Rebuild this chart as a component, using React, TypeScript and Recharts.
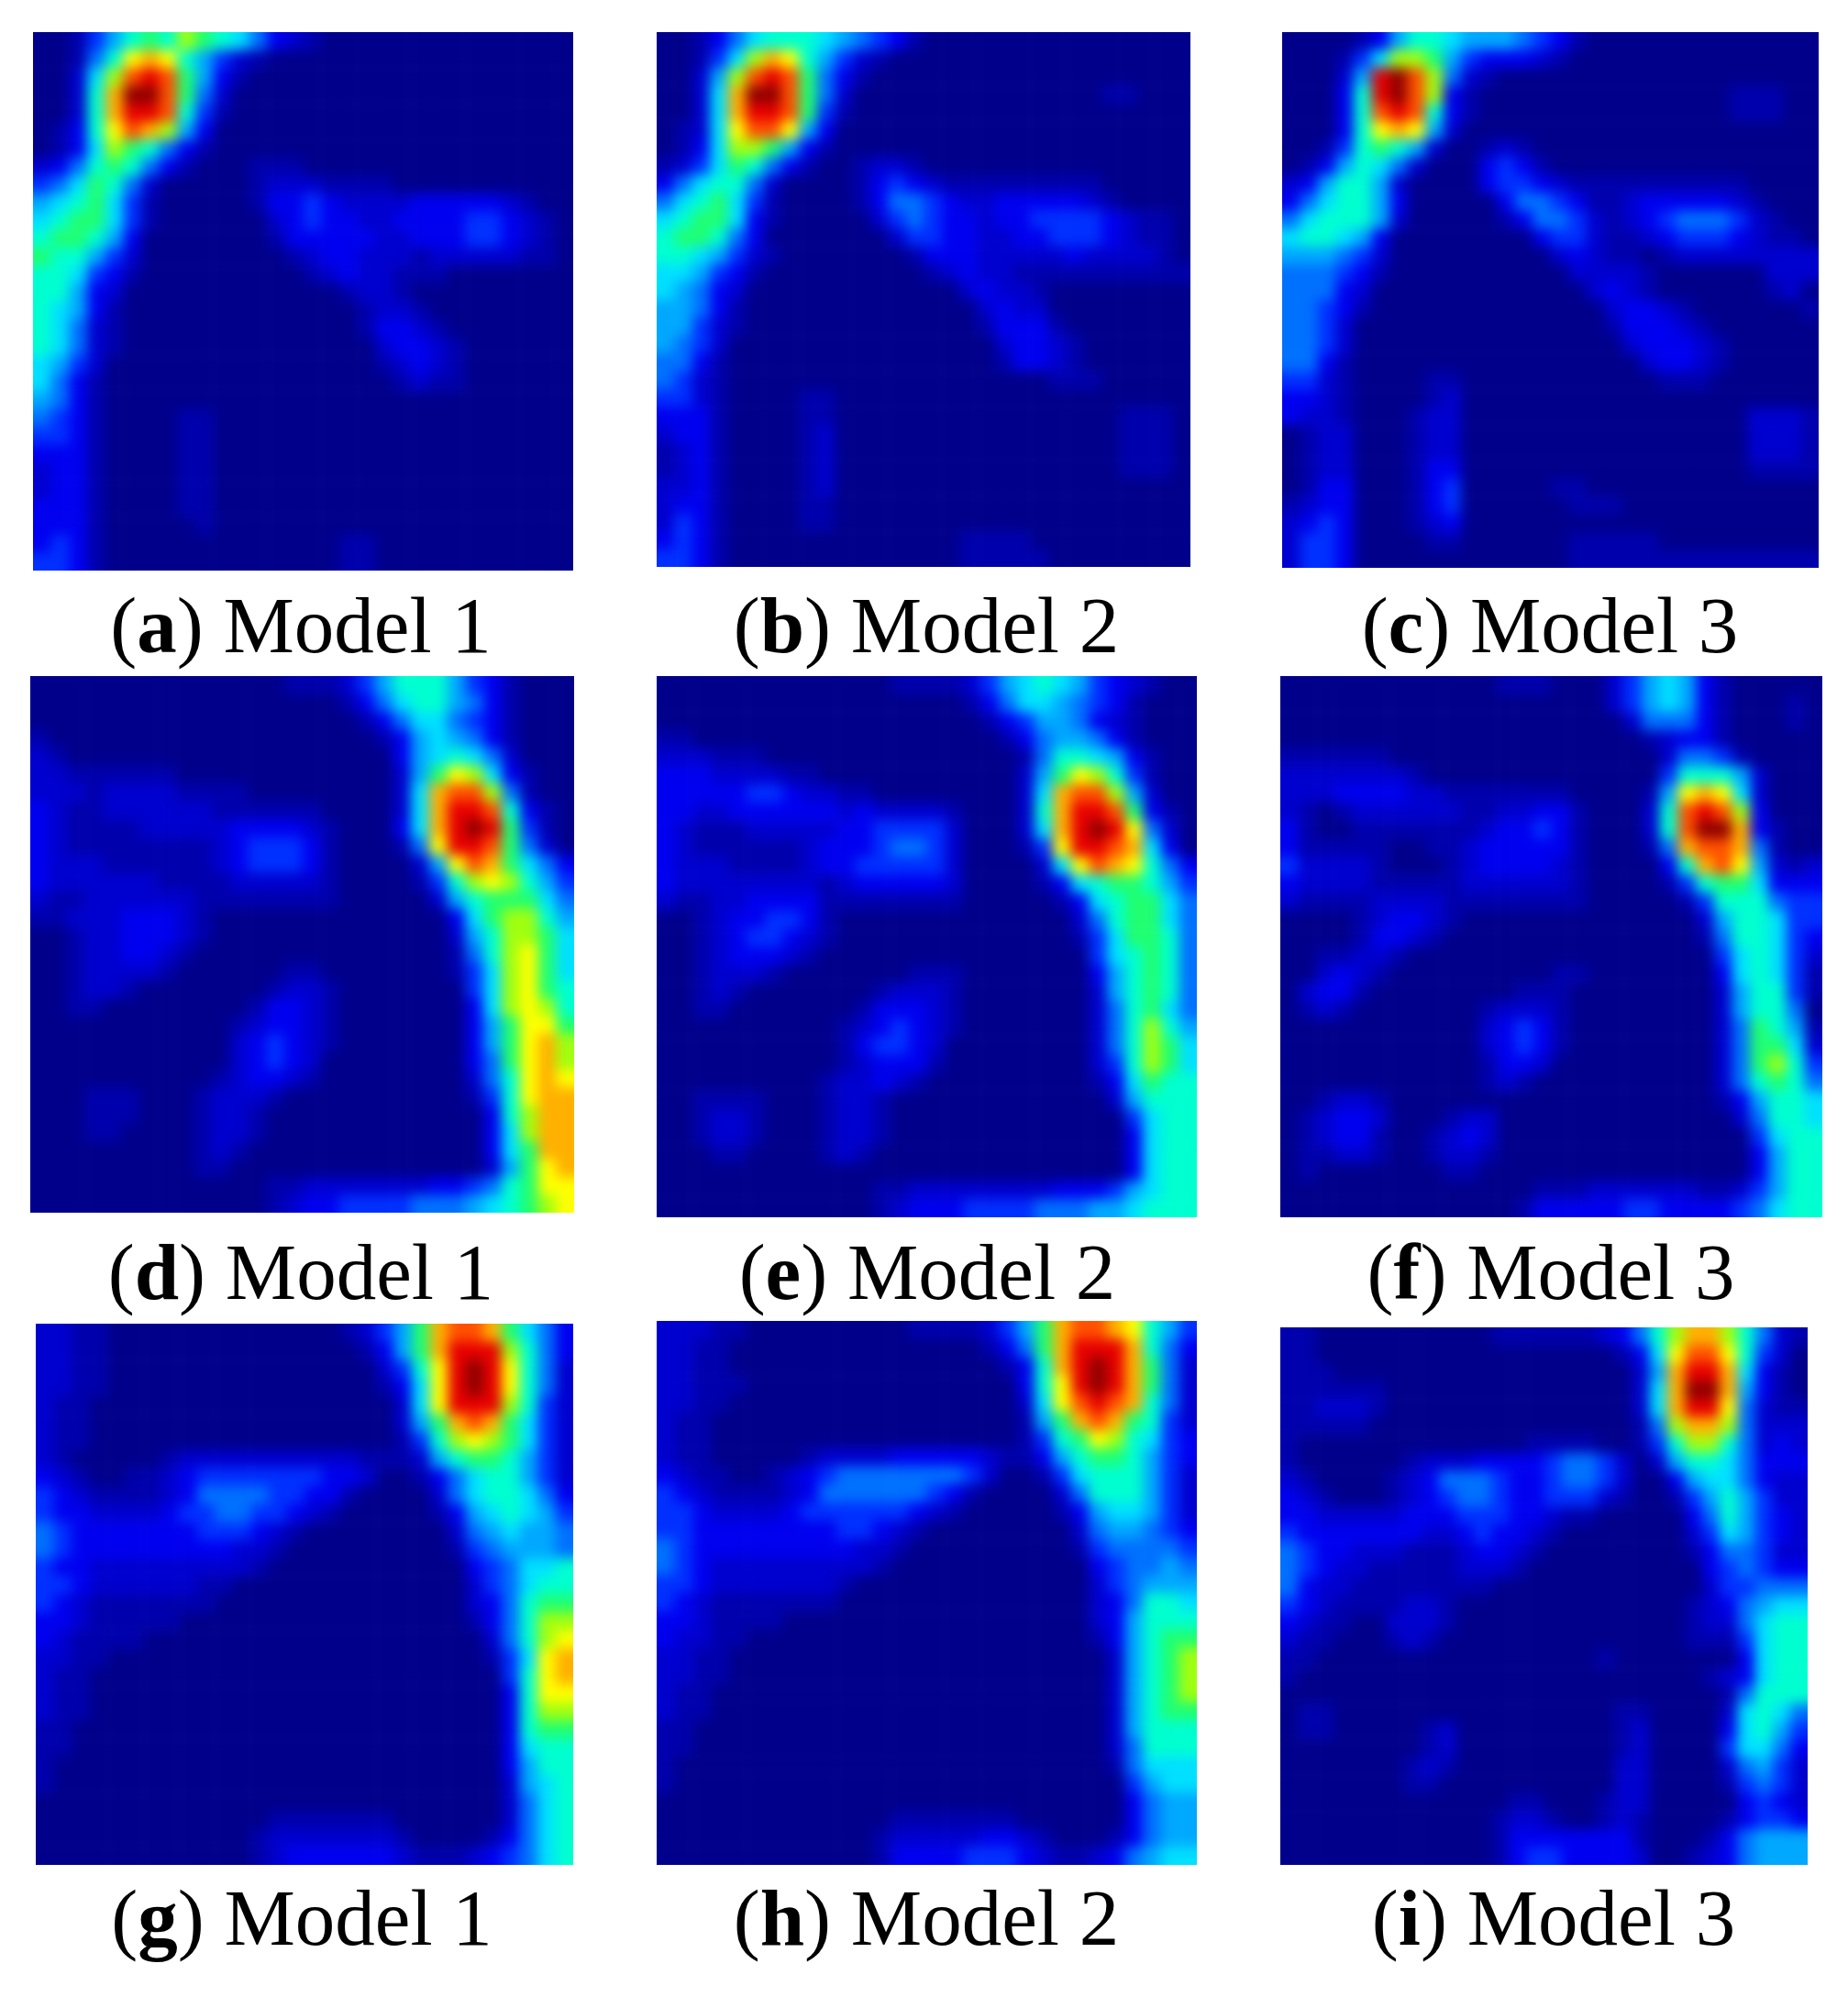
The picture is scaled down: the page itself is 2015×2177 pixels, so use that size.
import React from 'react'
import { ScatterChart, Scatter, XAxis, YAxis } from 'recharts'

// one hex digit per cell; missing cells at the end of a row are 0
const panelA = [
  '00146898a9875321',
  '00158bcb86421',
  '0027aded9631',
  '0028cffd952',
  '0028ceed841',
  '0138bdca63',
  '0137a98531',
  '235898531000111',
  '45798520000012221111',
  '6789741000001334322223333321',
  '78997410000002343322333344321',
  '89986300000001333332233344321',
  '98864200000000123322212222211',
  '88743100000000012322111',
  '886320000000000001221',
  '8763100000000000001221',
  '87521000000000000013321',
  '875210000000000000023321',
  '764200000000000000012321',
  '753100000000000000001211',
  '6531',
  '5431000011',
  '4431000011',
  '3331000011',
  '2331000011',
  '2331000011',
  '3331000011',
  '3331000001',
  '3431000000000000011',
  '4431000000000000011',
]
const panelB = [
  '001357888765431',
  '00147acb86421',
  '0026aded9531',
  '0027cffd9520000000000000011',
  '0027ceed941',
  '0127bddb63',
  '0137aa9631',
  '124798531001221',
  '3578852000013432111111111',
  '57897410000135543223333321',
  '78997310000024543323344443211',
  '89985300000002443322334443211',
  '88764210000000133322222322221',
  '776431000000000123221111111111',
  '7653200000000000023221',
  '6653100000000000002322',
  '66421000000000000013331',
  '654200000000000000023321',
  '553100000000000000013321',
  '5421000000000000000000111',
  '4421000011',
  '33310000110000000000000000111',
  '23310000120000000000000000111',
  '12310000120000000000000000111',
  '12310000120000000000000000111',
  '2231000012',
  '2331000011',
  '2431000011',
  '343100000000000001111',
  '4431000000000000011111',
]
const panelC = [
  '00001368876665431',
  '000147aa96433321',
  '00026efda521',
  '00038efda3100000000000000111',
  '00038ded83100000000000000111',
  '00038bcb62',
  '00148986200121',
  '013687520003431',
  '23688620000344321111111111',
  '357886300000355431123333321',
  '5788862000001355421234555421',
  '78876300000000344211234443211',
  '666542000000000232110122222222',
  '555431000000000022221000000222',
  '55532000000000000232100000012',
  '554310000000000000233210000001',
  '554200000000000000133321',
  '5542000000000000000233321',
  '5531000000000000000023321',
  '442100001100000000000111',
  '3321000012',
  '322100012200000000000000002221',
  '012200012200000000000000002221',
  '012200012200000000000000002221',
  '012200013300000000000000001111',
  '013300013400000110',
  '1233000134000000111',
  '2343000123',
  '244300001100000011111',
  '244300000000000011111111111111',
]
const panelD = [
  '000000000000001112468886431',
  '000000000000000001357886531',
  '000000000000000000135775431',
  '100000000000000000013676531',
  '210000000000000000003678752',
  '22111111000000000000269ba731',
  '2221222211110000000027cdda51',
  '3211222222111111000027ceed831',
  '3211112222233332100037cefe941',
  '3211111111234443100015beed952',
  '32221111112344431000026bdc9753',
  '322222211112222210000148aba864',
  '211222222111111110000026899975',
  '11222333210000000000000379aa86',
  '00122333210000000000000268aa97',
  '00122332100000000000000158ab97',
  '00122221000000110000000147ab97',
  '00122100000001221000000047ab98',
  '00110000000013321000000037aba8',
  '000000000001233210000000369bb9',
  '000000000002343210000000369bca',
  '000000000002343200000000359bca',
  '000000000012332100000000258bcb',
  '000111000122210000000000148bcc',
  '000111000122100000000000038acc',
  '000110000122100000000000037acc',
  '0000000001210000000000000379cc',
  '0000000001100000000000000269bc',
  '0000000000000112222222334589bb',
  '0000000000000123344445556789ab',
]
const panelE = [
  '0000000000000111124678764321',
  '000000000000000001357765431',
  '000000000000000000134665321',
  '110000000000000000013566531',
  '2221110000000000000015887631',
  '33322221100000000000269ba841',
  '3333344322110000000027cdda62',
  '3322333333232222100028ceed931',
  '3211122222334444200027cefeb52',
  '3211111123334554200014beedc73',
  '32221111233444442000027bdcb853',
  '322222222123333320000137899864',
  '211223333111111110000013789975',
  '001233443100000000000002589975',
  '001234432100000000000001479985',
  '001233321000000000000000478985',
  '001222100000001110000000368985',
  '001210000000122210000000268985',
  '001100000001333210000000258975',
  '000000000012343210000000258a86',
  '000000000013443200000000258a97',
  '000000000012333100000000248a97',
  '000000000122321000000000137988',
  '001111000122100000000000026888',
  '001221000122100000000000004788',
  '001221000122100000000000003788',
  '000110000121000000000000003788',
  '000000000000000000000000003788',
  '000000000000112222222233346788',
  '000000000000123334444555667888',
]
const panelF = [
  '0000000000001110002467631',
  '00000000000000000024676310001',
  '00000000000000000002555310001',
  '0000000000000000000012331',
  '11111100000000000000025541',
  '222222210000000000000488862',
  '2223333221111111000016bcb72',
  '2101222222112233100028deda3',
  '3100111111123343100028dffc31',
  '3111110011233333100015cddc51',
  '42222100012333321000038cdb6212',
  '322221111122222210000148997333',
  '211112222111111110000014888544',
  '000012332100000000000002688744',
  '000013321000000000000001588743',
  '001122100000000000000000478742',
  '002321000000000110000000378741',
  '023310000000011100000000268841',
  '01210000000122210000000026885',
  '000000000002343100000000259861',
  '000000000002343100000000259972',
  '000000000001332000000000259a84',
  '000000000001210000000000258985',
  '001221000000000000000000136887',
  '012332000122000000000000025887',
  '012331001232000000000000004788',
  '011221001221000000000000003688',
  '010000000110000000000000003688',
  '000000000000001112222221124688',
  '000000000000013333344333345788',
]
const panelG = [
  '2211000000000000012469cddc9753',
  '2211000000000000001369ceeea853',
  '2211000000000000000248befeb852',
  '2211000000000000000137befeb852',
  '2110000000000000000027beeea842',
  '21100000000000000000269cdc9742',
  '21100000000000000000148aba9742',
  '210000012222222222111268998642',
  '321001123444444433200135788642',
  '432111123555544331000025788753',
  '433222234455443210000013678764',
  '543333333444321000000002567665',
  '543333333332210000000001456665',
  '433222222222100000000000345778',
  '443222222110000000000000245788',
  '432111111100000000000000235899',
  '3321111100000000000000001358aa',
  '3211110000000000000000000258ab',
  '2211000000000000000000000147bc',
  '2110000000000000000000000048bc',
  '2110000000000000000000000038bb',
  '2110000000000000000000000038aa',
  '110000000000000000000000003899',
  '110000000000000000000000003788',
  '100000000000000000000000003688',
  '100000000000000000000000002678',
  '000000000000000000000000002578',
  '000000000000011111110000002578',
  '000000000000122222221000013578',
  '000000000000123333332111234578',
]
const panelH = [
  '2221100000000011112469cddcb864',
  '2211000000000000001359ceeec853',
  '2211000000000000000138cefec952',
  '2211100000000000000038befec952',
  '2211000000000000000027bdedc852',
  '21100000000000000000169cdc9842',
  '211000000000000000001489ba8743',
  '211000001222233333211368998643',
  '321100123455555554200147888642',
  '432111123555555431000025888642',
  '443222234444443210000013677642',
  '443333333344321000000002566543',
  '543333333332210000000001455554',
  '543222222222100000000000345565',
  '443222222210000000000000245666',
  '432111111100000000000000235887',
  '332111100000000000000000236888',
  '322110000000000000000000136899',
  '22110000000000000000000002689a',
  '22110000000000000000000002689a',
  '21100000000000000000000002689a',
  '211000000000000000000000026899',
  '110000000000000000000000026888',
  '110000000000000000000000025888',
  '100000000000000000000000015777',
  '100000000000000000000000004677',
  '000000000000000000000000003566',
  '000000000000011111110000003566',
  '000000000000122222332100013566',
  '000000000000133334443211235677',
]
const panelI = [
  '1100000000001111112358acca8521',
  '1100000000000000000137bddb842',
  '1110000000000000000026ceec731',
  '1111110000000000000027cffc631',
  '1122210000000000000027ceeb5211',
  '1111100000000000000015acca5222',
  '10000000000000111100148aa85232',
  '100000012223333455420268875333',
  '210000123555433455420036775322',
  '321000123455433444210014686422',
  '332222233344433211000003586432',
  '433333332234332100000002476432',
  '543322211123321000000001355422',
  '543221111122210000000000345433',
  '532211111111000000000000244555',
  '432111122100000000000001235677',
  '321100222100000000000001225788',
  '211000121000000000000001114788',
  '110000000000000000100000003788',
  '100000000000000000000000123788',
  '000000000000000000000000015888',
  '011000000000000000011000027875',
  '011000001200000000012000037864',
  '000000001200000000012000047753',
  '000000012100000000022000025642',
  '000000011000000000022000014542',
  '000000000000011000122000003432',
  '000000000000122100121000013443',
  '000000000000133333331000135666',
  '000000000000134433332001235666',
]

const letters = ['a', 'b', 'c', 'd', 'e', 'f', 'g', 'h', 'i']
const models = ['Model 1', 'Model 2', 'Model 3', 'Model 1', 'Model 2', 'Model 3', 'Model 1', 'Model 2', 'Model 3']
const fields = [panelA, panelB, panelC, panelD, panelE, panelF, panelG, panelH, panelI]

const lefts = [36, 716, 1398, 33, 716, 1396, 39, 716, 1396]
const tops = [35, 35, 35, 737, 737, 737, 1443, 1440, 1447]
const widths = [589, 582, 585, 593, 589, 591, 586, 589, 575]
const heights = [587, 583, 584, 585, 590, 590, 590, 593, 586]
const labelCenters = [328, 1010, 1690, 328, 1011, 1691, 329, 1010, 1694]
const labelBaselines = [711, 711, 711, 1416, 1416, 1416, 2120, 2120, 2120]

const GRID = 30
// jet-like colour ramp, one colour per digit
const ramp = ['#00008b', '#0000ad', '#0000cf', '#0000f0', '#0030ff', '#0070ff', '#00a8ff', '#00e0ff', '#00ffd0', '#20ff70', '#a0ff10', '#ffff00', '#ffb000', '#ff5000', '#e80000', '#8f0000']

const toCells = (rows: string[]) => {
  const cells: { x: number; y: number; level: number }[] = []
  rows.forEach((row, r) => {
    for (let c = 0; c < GRID; c++) {
      const ch = row[c]
      cells.push({ x: c + 0.5, y: r + 0.5, level: ch ? parseInt(ch, 16) : 0 })
    }
  })
  return cells
}

const BLEED = 40

const Panel = ({ rows, w, h }: { rows: string[]; w: number; h: number }) => {
  const cw = w / GRID
  const ch = h / GRID
  // border cells run past the edge so the blur does not fade out at the panel border
  const shape = (p: any) => {
    const { cx, cy, payload } = p
    const x0 = payload.x < 1 ? cx - cw / 2 - BLEED : cx - cw / 2
    const y0 = payload.y < 1 ? cy - ch / 2 - BLEED : cy - ch / 2
    const x1 = payload.x > GRID - 1 ? cx + cw / 2 + BLEED : cx + cw / 2 + 0.5
    const y1 = payload.y > GRID - 1 ? cy + ch / 2 + BLEED : cy + ch / 2 + 0.5
    return <rect x={x0} y={y0} width={x1 - x0} height={y1 - y0} fill={ramp[payload.level]} />
  }
  return (
    <ScatterChart width={w} height={h} margin={{ top: 0, right: 0, bottom: 0, left: 0 }}>
      <XAxis type="number" dataKey="x" domain={[0, GRID]} hide />
      <YAxis type="number" dataKey="y" domain={[0, GRID]} reversed hide />
      <Scatter data={toCells(rows)} shape={shape} isAnimationActive={false} className="heat" />
    </ScatterChart>
  )
}

export default function App() {
  return (
    <div style={{ position: 'absolute', left: 0, top: 0, width: 2015, height: 2177, background: '#fff', overflow: 'hidden' }}>
      <style>{`.heat { filter: url(#cellBlur); }`}</style>
      <svg width={0} height={0} style={{ position: 'absolute' }}>
        <filter id="cellBlur" filterUnits="userSpaceOnUse" x={-100} y={-100} width={900} height={900} colorInterpolationFilters="sRGB">
          <feGaussianBlur stdDeviation={7} />
        </filter>
      </svg>
      {fields.map((rows, i) => (
        <div key={i}>
          <div style={{ position: 'absolute', left: lefts[i], top: tops[i] }}>
            <Panel rows={rows} w={widths[i]} h={heights[i]} />
          </div>
          <div
            style={{
              position: 'absolute',
              left: labelCenters[i] - 300,
              width: 600,
              top: labelBaselines[i] - 73,
              textAlign: 'center',
              fontFamily: '"Liberation Serif", serif',
              fontSize: 87,
              lineHeight: 1,
              color: '#000',
              whiteSpace: 'pre',
            }}
          >
            (<b>{letters[i]}</b>) {models[i]}
          </div>
        </div>
      ))}
    </div>
  )
}
